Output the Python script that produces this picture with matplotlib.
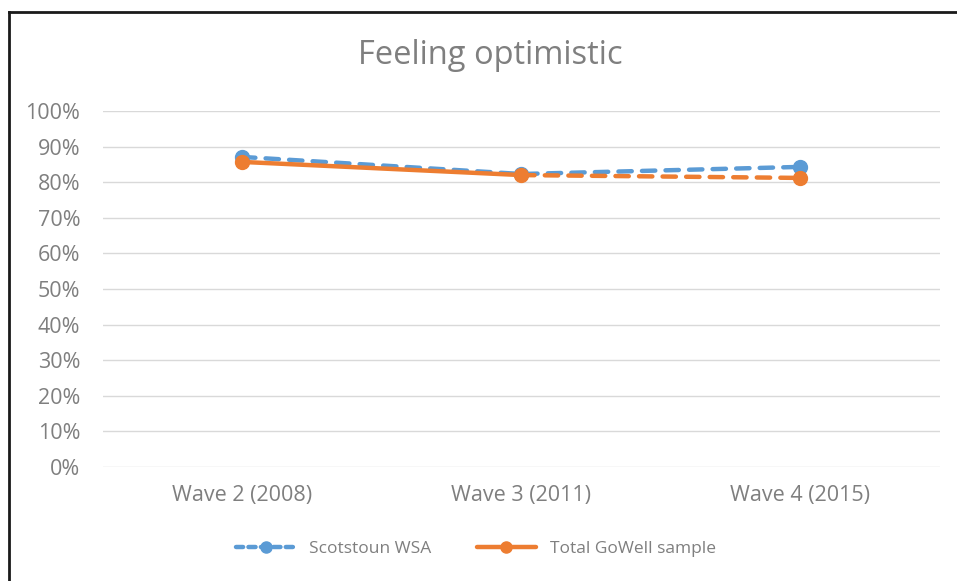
import matplotlib.pyplot as plt
from matplotlib.lines import Line2D
from matplotlib.ticker import PercentFormatter

plt.rcParams['font.family'] = ['Open Sans', 'DejaVu Sans']

waves = ["Wave 2 (2008)", "Wave 3 (2011)", "Wave 4 (2015)"]
scotstoun = [87.1, 82.3, 84.3]
gowell = [85.7, 82.0, 81.2]

blue = "#5B9BD5"
orange = "#ED7D31"
grey = "#7F7F7F"

fig = plt.figure(figsize=(9.57, 5.81), dpi=100)
ax = fig.add_axes([102.5 / 957, 1 - 467 / 581, (940 - 102.5) / 957, (467 - 111) / 581])

x = list(range(len(waves)))

# Scotstoun: dashed throughout
ax.plot(x, scotstoun, color=blue, lw=3.2, dashes=(3, 2.3), dash_capstyle='round',
        marker='o', markersize=10, zorder=3)

# GoWell: solid then dashed for the last segment
ax.plot(x[:2], gowell[:2], color=orange, lw=3.2, solid_capstyle='round', zorder=4)
ax.plot(x[1:], gowell[1:], color=orange, lw=3.2, dashes=(3, 2.3), dash_capstyle='round', zorder=4)
ax.plot(x, gowell, color=orange, lw=0, marker='o', markersize=10, zorder=5)

ax.set_xlim(-0.5, 2.5)
ax.set_ylim(0, 100)
ax.set_yticks(range(0, 101, 10))
ax.yaxis.set_major_formatter(PercentFormatter(decimals=0))
ax.set_xticks(x)
ax.set_xticklabels(waves)
ax.grid(axis='y', color="#D9D9D9", lw=1)
ax.set_axisbelow(True)
for s in ax.spines.values():
    s.set_visible(False)
ax.tick_params(axis='both', length=0, labelsize=15.5, colors=grey)
ax.tick_params(axis='y', pad=16)
ax.tick_params(axis='x', pad=13)

fig.text(490 / 957, 1 - 55 / 581, "Feeling optimistic", ha='center', va='center',
         fontsize=23.5, color=grey)

handles = [
    Line2D([], [], color=blue, lw=3.2, dashes=(1.6, 1.2), dash_capstyle='round',
           marker='o', markersize=8),
    Line2D([], [], color=orange, lw=3.2, solid_capstyle='round', marker='o', markersize=8),
]
leg = fig.legend(handles, ["Scotstoun WSA", "Total GoWell sample"], loc='center',
                 bbox_to_anchor=(476 / 957, 1 - 549 / 581), ncol=2, frameon=False,
                 fontsize=12.5, handlelength=3.4, columnspacing=2.6, handletextpad=0.8)
for t in leg.get_texts():
    t.set_color(grey)

# frame around chart (top and left edges visible)
fig.add_artist(Line2D([9 / 957, 9 / 957], [0, 1 - 12 / 581], color="#1a1a1a", lw=2))
fig.add_artist(Line2D([9 / 957, 1], [1 - 12 / 581, 1 - 12 / 581], color="#1a1a1a", lw=2))

fig.savefig("out.png", dpi=100)
